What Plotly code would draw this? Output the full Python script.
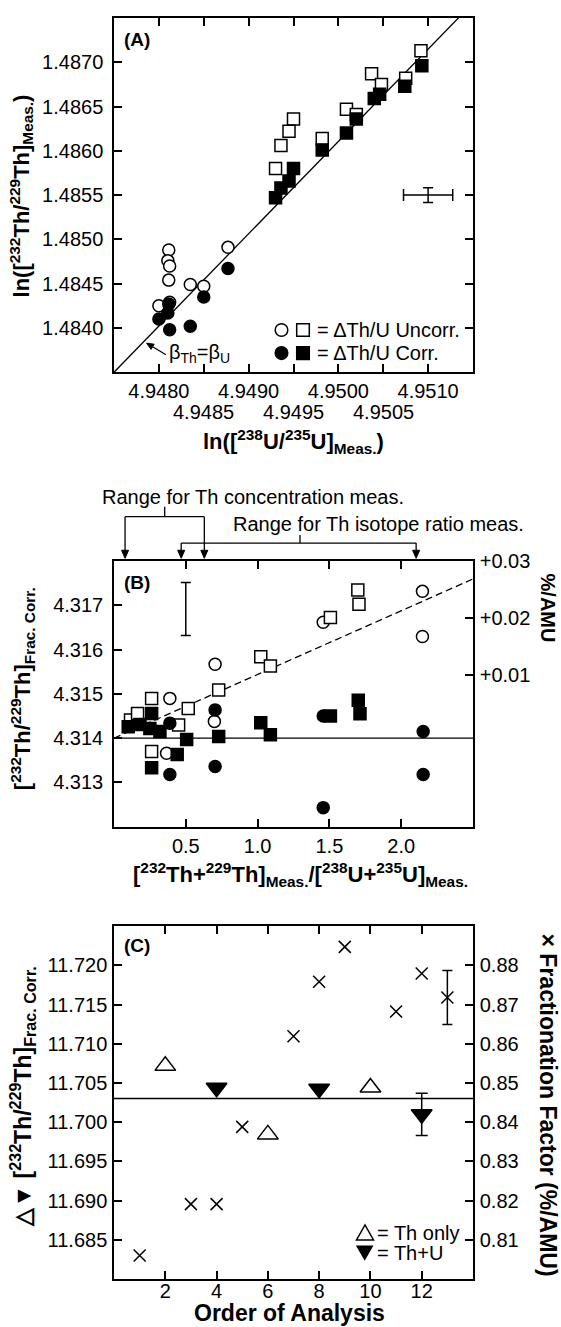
import plotly.graph_objects as go

# ---------------- Panel A data ----------------
a_open_sq_x = [4.95092, 4.95075, 4.95037, 4.95048, 4.95009, 4.95020, 4.94982, 4.94950, 4.94945, 4.94936, 4.94930]
a_open_sq_y = [1.48713, 1.48682, 1.48687, 1.48675, 1.48647, 1.48641, 1.48614, 1.48636, 1.48622, 1.48606, 1.48580]
a_fill_sq_x = [4.95093, 4.95074, 4.95046, 4.95040, 4.95009, 4.95020, 4.94982, 4.94950, 4.94945, 4.94936, 4.94930]
a_fill_sq_y = [1.48696, 1.48673, 1.48664, 1.48659, 1.48620, 1.48636, 1.48601, 1.48580, 1.48566, 1.48558, 1.48547]
a_open_ci_x = [4.94811, 4.94810, 4.94812, 4.94811, 4.94835, 4.94850, 4.94877, 4.94800, 4.94812]
a_open_ci_y = [1.48488, 1.48476, 1.48470, 1.48454, 1.48449, 1.48447, 1.48491, 1.48425, 1.48429]
a_fill_ci_x = [4.94877, 4.94850, 4.94811, 4.94810, 4.94800, 4.94812, 4.94835]
a_fill_ci_y = [1.48467, 1.48435, 1.48427, 1.48417, 1.48410, 1.48398, 1.48402]
a_line_x = [4.9475, 4.9515]          # beta_Th = beta_U line
a_line_y = [1.4835, 1.48767]
a_err_x, a_err_y, a_err_dx, a_err_dy = 4.9510, 1.4855, 0.000274, 0.000084
a_xticks = [4.9480, 4.9485, 4.9490, 4.9495, 4.9500, 4.9505, 4.9510]
a_xtick_row1 = ["4.9480", "", "4.9490", "", "4.9500", "", "4.9510"]
a_xtick_row2 = [4.9485, 4.9495, 4.9505]
a_yticks = [1.4840, 1.4845, 1.4850, 1.4855, 1.4860, 1.4865, 1.4870]

# ---------------- Panel B data ----------------
b_open_sq_x = [1.698, 1.706, 1.507, 1.022, 1.089, 0.729, 0.517, 0.262, 0.262, 0.115, 0.164, 0.450]
b_open_sq_y = [4.31735, 4.31703, 4.31673, 4.31584, 4.31563, 4.31509, 4.31467, 4.31490, 4.31370, 4.31441, 4.31456, 4.31430]
b_fill_sq_x = [1.701, 1.713, 1.507, 1.022, 1.089, 0.729, 0.506, 0.440, 0.262, 0.099, 0.181, 0.250, 0.320, 0.262]
b_fill_sq_y = [4.31486, 4.31455, 4.31450, 4.31435, 4.31408, 4.31404, 4.31397, 4.31363, 4.31456, 4.31426, 4.31431, 4.31422, 4.31415, 4.31333]
b_open_ci_x = [1.457, 2.148, 2.148, 0.704, 0.699, 0.389, 0.366]
b_open_ci_y = [4.31662, 4.31732, 4.31630, 4.31567, 4.31438, 4.31490, 4.31366]
b_fill_ci_x = [0.704, 0.704, 0.389, 0.389, 1.457, 1.457, 2.153, 2.153]
b_fill_ci_y = [4.31464, 4.31336, 4.31434, 4.31318, 4.31450, 4.31243, 4.31415, 4.31318]
b_fit_x = [0.0, 2.5]
b_fit_y = [4.3140, 4.3176]
b_ref_y = 4.3140
b_err_x, b_err_y, b_err_dy = 0.5, 4.31692, 0.0006
b_xticks = [0.5, 1.0, 1.5, 2.0]
b_yticks = [4.313, 4.314, 4.315, 4.316, 4.317]
b_rticks = [0.01, 0.02, 0.03]
b_rtick_text = ["+0.01", "+0.02", "+0.03"]
b_range_conc = [0.077, 0.629]
b_range_iso = [0.468, 2.104]

# ---------------- Panel C data ----------------
c_th_only_x = [2, 6, 10]
c_th_only_y = [11.70718, 11.69844, 11.70442]
c_thu_x = [4, 8, 12]
c_thu_y = [11.70438, 11.70425, 11.70100]
c_thu_err = 0.0027
c_ff_x = [1, 3, 4, 5, 7, 8, 9, 11, 12, 13]
c_ff_y = [0.8060, 0.8191, 0.8191, 0.8388, 0.8619, 0.8758, 0.8847, 0.8682, 0.8779, 0.8718]
c_ff_err = 0.0069
c_mean = 11.703
c_xticks = [2, 4, 6, 8, 10, 12]
c_yticks = [11.685, 11.690, 11.695, 11.700, 11.705, 11.710, 11.715, 11.720]
c_rticks = [0.81, 0.82, 0.83, 0.84, 0.85, 0.86, 0.87, 0.88]

# ---------------- layout helpers ----------------
FONT = "Liberation Sans, Arial, Helvetica, sans-serif"
W, H = 561, 1327
ML, MR, MT, MB = 114, 88, 7, 48
PW = W - ML - MR
PH = H - MT - MB


def px(x):
    return (x - ML) / PW


def py(y):
    return (H - MB - y) / PH


open_mk = dict(color="white", line=dict(color="black", width=1.5))
fill_mk = dict(color="black", line=dict(color="black", width=1.5))
MS = 12

fig = go.Figure()


def scat(x, y, xa, ya, symbol, style, size=MS, **kw):
    fig.add_trace(go.Scatter(x=x, y=y, mode="markers", xaxis=xa, yaxis=ya,
                             marker=dict(symbol=symbol, size=size, **style),
                             showlegend=False, hoverinfo="skip", **kw))


# Panel A
fig.add_trace(go.Scatter(x=a_line_x, y=a_line_y, mode="lines", xaxis="x", yaxis="y",
                         line=dict(color="black", width=1.3), showlegend=False))
scat(a_open_ci_x, a_open_ci_y, "x", "y", "circle", open_mk)
scat(a_open_sq_x, a_open_sq_y, "x", "y", "square", open_mk)
scat(a_fill_ci_x, a_fill_ci_y, "x", "y", "circle", fill_mk)
scat(a_fill_sq_x, a_fill_sq_y, "x", "y", "square", fill_mk)
fig.add_trace(go.Scatter(x=[a_err_x], y=[a_err_y], mode="markers", xaxis="x", yaxis="y",
                         marker=dict(size=1, color="rgba(0,0,0,0)"), showlegend=False,
                         error_x=dict(type="data", array=[a_err_dx], color="black", thickness=1.5, width=6),
                         error_y=dict(type="data", array=[a_err_dy], color="black", thickness=1.5, width=5)))

# Panel B
fig.add_trace(go.Scatter(x=[0, 2.5], y=[b_ref_y, b_ref_y], mode="lines", xaxis="x2", yaxis="y2",
                         line=dict(color="black", width=1.3), showlegend=False))
fig.add_trace(go.Scatter(x=b_fit_x, y=b_fit_y, mode="lines", xaxis="x2", yaxis="y2",
                         line=dict(color="black", width=1.3, dash="7px,4px"), showlegend=False))
scat(b_open_ci_x, b_open_ci_y, "x2", "y2", "circle", open_mk)
scat(b_open_sq_x, b_open_sq_y, "x2", "y2", "square", open_mk)
scat(b_fill_ci_x, b_fill_ci_y, "x2", "y2", "circle", fill_mk)
scat(b_fill_sq_x, b_fill_sq_y, "x2", "y2", "square", fill_mk)
fig.add_trace(go.Scatter(x=[b_err_x], y=[b_err_y], mode="markers", xaxis="x2", yaxis="y2",
                         marker=dict(size=1, color="rgba(0,0,0,0)"), showlegend=False,
                         error_y=dict(type="data", array=[b_err_dy], color="black", thickness=1.5, width=5)))
# invisible trace to attach right axis of B
fig.add_trace(go.Scatter(x=[None], y=[None], mode="markers", xaxis="x2", yaxis="y3", showlegend=False))

# Panel C
fig.add_trace(go.Scatter(x=[0, 14], y=[c_mean, c_mean], mode="lines", xaxis="x3", yaxis="y4",
                         line=dict(color="black", width=1.5), showlegend=False))
scat(c_th_only_x, c_th_only_y, "x3", "y4", "triangle-up", open_mk, size=18)
scat(c_thu_x, c_thu_y, "x3", "y4", "triangle-down", fill_mk, size=18)
fig.add_trace(go.Scatter(x=[c_thu_x[-1]], y=[c_thu_y[-1]], mode="markers", xaxis="x3", yaxis="y4",
                         marker=dict(size=1, color="rgba(0,0,0,0)"), showlegend=False,
                         error_y=dict(type="data", array=[c_thu_err], color="black", thickness=1.5, width=6)))
scat(c_ff_x, c_ff_y, "x3", "y5", "x-thin", dict(color="black", line=dict(color="black", width=1.5)), size=12)
fig.add_trace(go.Scatter(x=[c_ff_x[-1]], y=[c_ff_y[-1]], mode="markers", xaxis="x3", yaxis="y5",
                         marker=dict(size=1, color="rgba(0,0,0,0)"), showlegend=False,
                         error_y=dict(type="data", array=[c_ff_err], color="black", thickness=1.5, width=5)))

ax = dict(showline=True, linecolor="black", linewidth=1.5, ticks="inside", ticklen=8,
          tickwidth=1.5, tickcolor="black", showgrid=False, zeroline=False,
          tickfont=dict(family=FONT, size=20, color="black"))

domA = [py(364.3), 1.0]
domB = [py(822.7), py(555)]
domC = [0.0, py(923)]

fig.update_layout(
    width=W, height=H, margin=dict(l=ML, r=MR, t=MT, b=MB),
    paper_bgcolor="white", plot_bgcolor="white", showlegend=False,
    font=dict(family=FONT, size=20, color="black"),
    xaxis=dict(**ax, domain=[0, 1], anchor="y", range=[4.9475, 4.9515], tickvals=a_xticks,
               ticktext=a_xtick_row1, mirror="ticks", ticklabelstandoff=0),
    yaxis=dict(**ax, domain=domA, anchor="x", range=[1.4835, 1.4875], tickvals=a_yticks,
               tickformat=".4f", mirror="ticks", ticklabelstandoff=5),
    xaxis2=dict(**ax, domain=[0, 1], anchor="y2", range=[0, 2.5], tickvals=b_xticks,
                tickformat=".1f", mirror="ticks", ticklabelstandoff=1),
    yaxis2=dict(**ax, domain=domB, anchor="x2", range=[4.312, 4.318], tickvals=b_yticks,
                tickformat=".3f", mirror=False, ticklabelstandoff=5),
    yaxis3=dict(**ax, overlaying="y2", side="right", anchor="x2", range=[-0.0166, 0.030],
                tickvals=b_rticks, ticktext=b_rtick_text, ticklabelstandoff=1),
    xaxis3=dict(**ax, domain=[0, 1], anchor="y4", range=[0, 14], tickvals=c_xticks,
                mirror="ticks", ticklabelstandoff=-7),
    yaxis4=dict(**ax, domain=domC, anchor="x3", range=[11.68, 11.725], tickvals=c_yticks,
                tickformat=".3f", mirror=False, ticklabelstandoff=1),
    yaxis5=dict(**ax, overlaying="y4", side="right", anchor="x3", range=[0.80, 0.89],
                tickvals=c_rticks, tickformat=".2f", ticklabelstandoff=1),
)

ann = []


def text(x, y, t, size=20, bold=False, angle=0, xanchor="center", yanchor="middle", xref="paper"):
    if bold:
        t = "<b>" + t + "</b>"
    ann.append(dict(x=x, y=y, xref=xref, yref="paper", text=t, showarrow=False, textangle=angle,
                    xanchor=xanchor, yanchor=yanchor, font=dict(family=FONT, size=size, color="black")))


# second row of A x tick labels
for v in a_xtick_row2:
    text(v, py(404), "%.4f" % v, xref="x")

# panel labels
text(px(137), py(29), "(A)", size=19, bold=True)
text(px(137), py(576), "(B)", size=19, bold=True)
text(px(137), py(943), "(C)", size=19, bold=True)

# axis titles
text(px(21.5), py(186.5), "ln([<sup>232</sup>Th/<sup>229</sup>Th]<sub>Meas.</sub>)", size=22, bold=True, angle=-90)
text(px(293.7), py(434), "ln([<sup>238</sup>U/<sup>235</sup>U]<sub>Meas.</sub>)", size=22, bold=True)
text(px(22), py(684), "[<sup>232</sup>Th/<sup>229</sup>Th]<sub>Frac. Corr.</sub>", size=22, bold=True, angle=-90)
text(px(300), py(871), "[<sup>232</sup>Th+<sup>229</sup>Th]<sub>Meas.</sub>/[<sup>238</sup>U+<sup>235</sup>U]<sub>Meas.</sub>",
     size=22, bold=True)
text(px(548), py(601.7), "%/AMU", size=20, bold=True, angle=90)
text(px(22), py(1095), "△▼ [<sup>232</sup>Th/<sup>229</sup>Th]<sub>Frac. Corr.</sub>", size=23, bold=True, angle=-90)
text(px(548), py(1103), "× Fractionation Factor (%/AMU)", size=23, bold=True, angle=90)
text(px(289.6), py(1313), "Order of Analysis", size=23, bold=True)

# legends
text(px(314.6), py(321.7), "= ΔTh/U Uncorr.", xanchor="left")
text(px(314.6), py(345), "= ΔTh/U Corr.", xanchor="left")
text(px(374.7), py(1232.5), "= Th only", xanchor="left")
text(px(374.7), py(1252.5), "= Th+U", xanchor="left")

# beta label
text(px(199.3), py(345), "β<sub>Th</sub>=β<sub>U</sub>")

# range annotations above B
text(px(253), py(490), "Range for Th concentration meas.")
text(px(378.6), py(517), "Range for Th isotope ratio meas.")

shapes = []


def line(x0, y0, x1, y1, w=1.3):
    shapes.append(dict(type="line", xref="paper", yref="paper", x0=px(x0), y0=py(y0),
                       x1=px(x1), y1=py(y1), line=dict(color="black", width=w)))


def head(cx, cy, path):
    shapes.append(dict(type="path", xref="paper", yref="paper", xsizemode="pixel", ysizemode="pixel",
                       xanchor=px(cx), yanchor=py(cy), path=path,
                       line=dict(color="black", width=1), fillcolor="black"))


def b_to_px(v):
    return ML + v / 2.5 * PW


c0, c1 = b_to_px(b_range_conc[0]), b_to_px(b_range_conc[1])
i0, i1 = b_to_px(b_range_iso[0]), b_to_px(b_range_iso[1])
line(c0, 510, c1, 510)
line((c0 + c1) / 2, 500, (c0 + c1) / 2, 510)
line(i0, 536.7, i1, 536.7)
line(300, 528.5, 300, 536.7)
for xv, ytop in [(c0, 510), (c1, 510), (i0, 536.7), (i1, 536.7)]:
    line(xv, ytop, xv, 546)
    head(xv, 552, "M -3.5,8 L 3.5,8 L 0,0 Z")

# beta arrow
line(166, 346.7, 152.6, 338.6, w=1.2)
head(146.6, 335, "M 0,0 L 7.55,-1.05 L 4.45,-6.19 Z")


# legend keys (shapes)
def key(kind, cx, cy, filled, r=6.3):
    d = dict(xref="paper", yref="paper", xsizemode="pixel", ysizemode="pixel",
             xanchor=px(cx), yanchor=py(cy), line=dict(color="black", width=1.5),
             fillcolor="black" if filled else "white")
    if kind in ("circle", "rect"):
        d.update(type=kind, x0=-r, x1=r, y0=-r, y1=r)
    elif kind == "tri_up":
        d.update(type="path", path="M -8.5,-6.5 L 8.5,-6.5 L 0,8.5 Z")
    elif kind == "tri_down":
        d.update(type="path", path="M -7.5,6.5 L 7.5,6.5 L 0,-6.5 Z")
    shapes.append(d)


key("circle", 281.5, 321.7, False)
key("rect", 303, 321.7, False)
key("circle", 281.5, 345, True)
key("rect", 303, 345, True)
key("tri_up", 365, 1233, False)
key("tri_down", 364.7, 1252.5, True)

fig.update_layout(annotations=ann, shapes=shapes)
fig.write_html("out.html", config={"displayModeBar": False},
               post_script="document.body.style.margin='0px';document.body.style.overflow='hidden';")
